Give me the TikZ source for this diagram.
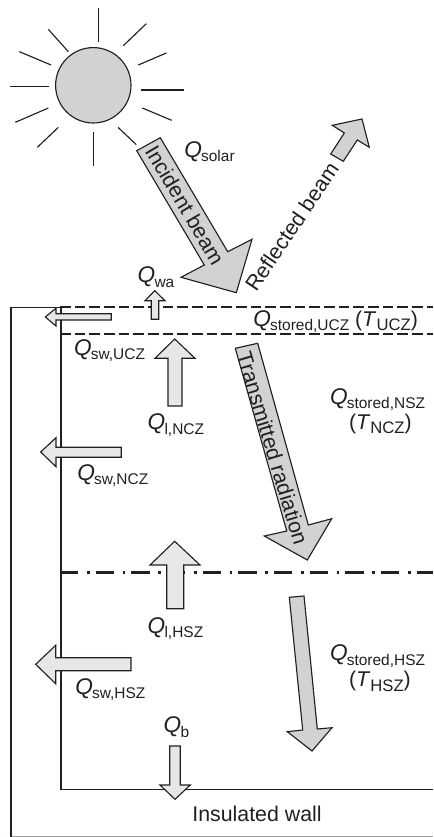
\documentclass[tikz,border=0pt]{standalone}
\usepackage{fontspec}
\setmainfont{Liberation Sans}
\definecolor{ink}{HTML}{231F20}
\definecolor{darkfill}{HTML}{D0D2D3}
\definecolor{lightfill}{HTML}{E6E7E8}
\newcommand{\QQ}[1]{{\fontsize{17}{18}\selectfont\textit{Q}}\kern-0.6pt\raisebox{-3.4pt}{\fontsize{11.6}{12}\selectfont #1}}
\newcommand{\TT}[1]{(\textit{T}\raisebox{-3.4pt}{\fontsize{12.5}{12}\selectfont #1})}
\tikzset{
  lab/.style={anchor=base west,inner sep=0pt,outer sep=0pt,text=ink,font=\fontsize{16}{18}\selectfont},
  rotlab/.style={anchor=center,inner sep=0pt,outer sep=0pt,text=ink,font=\fontsize{16}{18}\selectfont},
  ray/.style={draw=ink,line width=0.85pt},
  wall/.style={draw=ink,line width=1.2pt},
  zoneline/.style={draw=ink,line width=1.35pt,dash pattern=on 8pt off 3pt},
  haloline/.style={draw=ink,line width=1.8pt,dash pattern=on 13.75pt off 6.5pt on 2pt off 4.5pt},
  darrow/.style={draw=ink,fill=darkfill,line width=0.85pt,line join=miter},
  larrow/.style={draw=ink,fill=lightfill,line width=0.85pt,line join=miter},
}
\begin{document}
\begin{tikzpicture}[x=0.75pt,y=-0.75pt]
\useasboundingbox (0,0) rectangle (433,837);
% sun
\draw[ray,fill=darkfill] (93.3,85.3) circle [radius=37.7];
\foreach \a/\b/\c/\d in {295/24/295/127,439/71/370/137,499/159/415/195,422/270/552/270,427/324/515/361,354/382/409/434,280/396/280/499,175/382/112/442,145/324/46/367,30/260/146/260,58/155/153/195,145/88/205/155}
  \draw[ray] (\a/3,\b/3) -- (\c/3,\d/3);
% tank
\draw[draw=ink,line width=0.75pt] (10.7,307.3) -- (60.7,307.3);
\draw[draw=ink!45,line width=0.75pt] (10.7,836) -- (433,836);
\draw[wall,line width=1.8pt] (10.7,306.8) -- (10.7,837);
\draw[wall] (60.7,307.3) -- (60.7,789.3) -- (433,789.3);
\draw[zoneline] (60,307.3) -- (433,307.3);
\draw[zoneline] (60,334) -- (433,334);
\draw[haloline] (60,572.3) -- (433,572.3);
% beams
\draw[darrow] (136.7,150.7) -- (160.3,137.7) -- (227.7,251.7) -- (252,239.3) -- (236.3,292.7) -- (181,277.3) -- (204.3,265) -- cycle;
\draw[darrow] (330.7,154) -- (343.3,161.3) -- (357.3,140) -- (369.3,147.3) -- (362,119) -- (332.3,125.3) -- (344.3,133) -- cycle;
\draw[darrow] (235.3,348.3) -- (257.7,343.3) -- (308.3,525) -- (331.7,518.7) -- (307.3,560) -- (264.3,536) -- (286.7,531) -- cycle;
\draw[darrow] (289.3,597.3) -- (304,596) -- (317.3,729) -- (332,727.7) -- (312,751) -- (287.3,731.7) -- (302.7,730) -- cycle;
% heat-loss arrows
\draw[larrow] (154.7,290.7) -- (165,300.7) -- (158.7,300.7) -- (158.7,319.3) -- (151.3,319.3) -- (151.3,300.7) -- (145,300.7) -- cycle;
\draw[larrow] (45.3,317) -- (56,308.3) -- (56,313.7) -- (111.3,313.7) -- (111.3,320) -- (56,320) -- (56,326) -- cycle;
\draw[larrow] (174.7,339) -- (195,358.3) -- (182,358.3) -- (182,406) -- (168,406) -- (168,358.3) -- (155,358.3) -- cycle;
\draw[larrow] (40.7,452) -- (56,437.7) -- (56,447.3) -- (121.3,447.3) -- (121.3,457.3) -- (56,457.3) -- (56,466.7) -- cycle;
\draw[larrow] (174.7,541.3) -- (200,565) -- (183.7,565) -- (183.7,608.7) -- (166.7,608.7) -- (166.7,565) -- (150,565) -- cycle;
\draw[larrow] (35.7,664.3) -- (55.7,645.3) -- (55.7,657.7) -- (131,657.7) -- (131,670.7) -- (55.7,670.7) -- (55.7,683.7) -- cycle;
\draw[larrow] (175,799.3) -- (190.3,785) -- (180.3,785) -- (180.3,746) -- (169.7,746) -- (169.7,785) -- (160,785) -- cycle;
% labels
\node[rotlab,rotate=-59.4] (incident) at (185,205) {Incident beam};
\node[rotlab,rotate=56] (reflected) at (291.7,226.7) {Reflected beam};
\node[rotlab,rotate=-73.2] (transmitted) at (272.7,448.3) {Transmitted radiation};
\node[lab] (qsolar) at (184.3,157.3) {\QQ{solar}};
\node[lab] (qwa) at (137.7,282.7) {\QQ{wa}};
\node[lab] (qucz) at (253.3,326) {\QQ{stored,UCZ} \TT{UCZ}};
\node[lab] (qswucz) at (74,355) {\QQ{sw,UCZ}};
\node[lab] (qlncz) at (147.7,429.7) {\QQ{l,NCZ}};
\node[lab] (qnsz) at (330,404) {\QQ{stored,NSZ}};
\node[lab] (tncz) at (349,429.3) {\TT{NCZ}};
\node[lab] (qswncz) at (77.3,480) {\QQ{sw,NCZ}};
\node[lab] (qlhsz) at (147.7,633.3) {\QQ{l,HSZ}};
\node[lab] (qswhsz) at (75.3,694.3) {\QQ{sw,HSZ}};
\node[lab] (qhsz) at (330,660.7) {\QQ{stored,HSZ}};
\node[lab] (thsz) at (349,686.7) {\TT{HSZ}};
\node[lab] (qb) at (163.7,732.7) {\QQ{b}};
\node[lab,anchor=base] (wall) at (257,821) {Insulated wall};
\end{tikzpicture}
\end{document}
